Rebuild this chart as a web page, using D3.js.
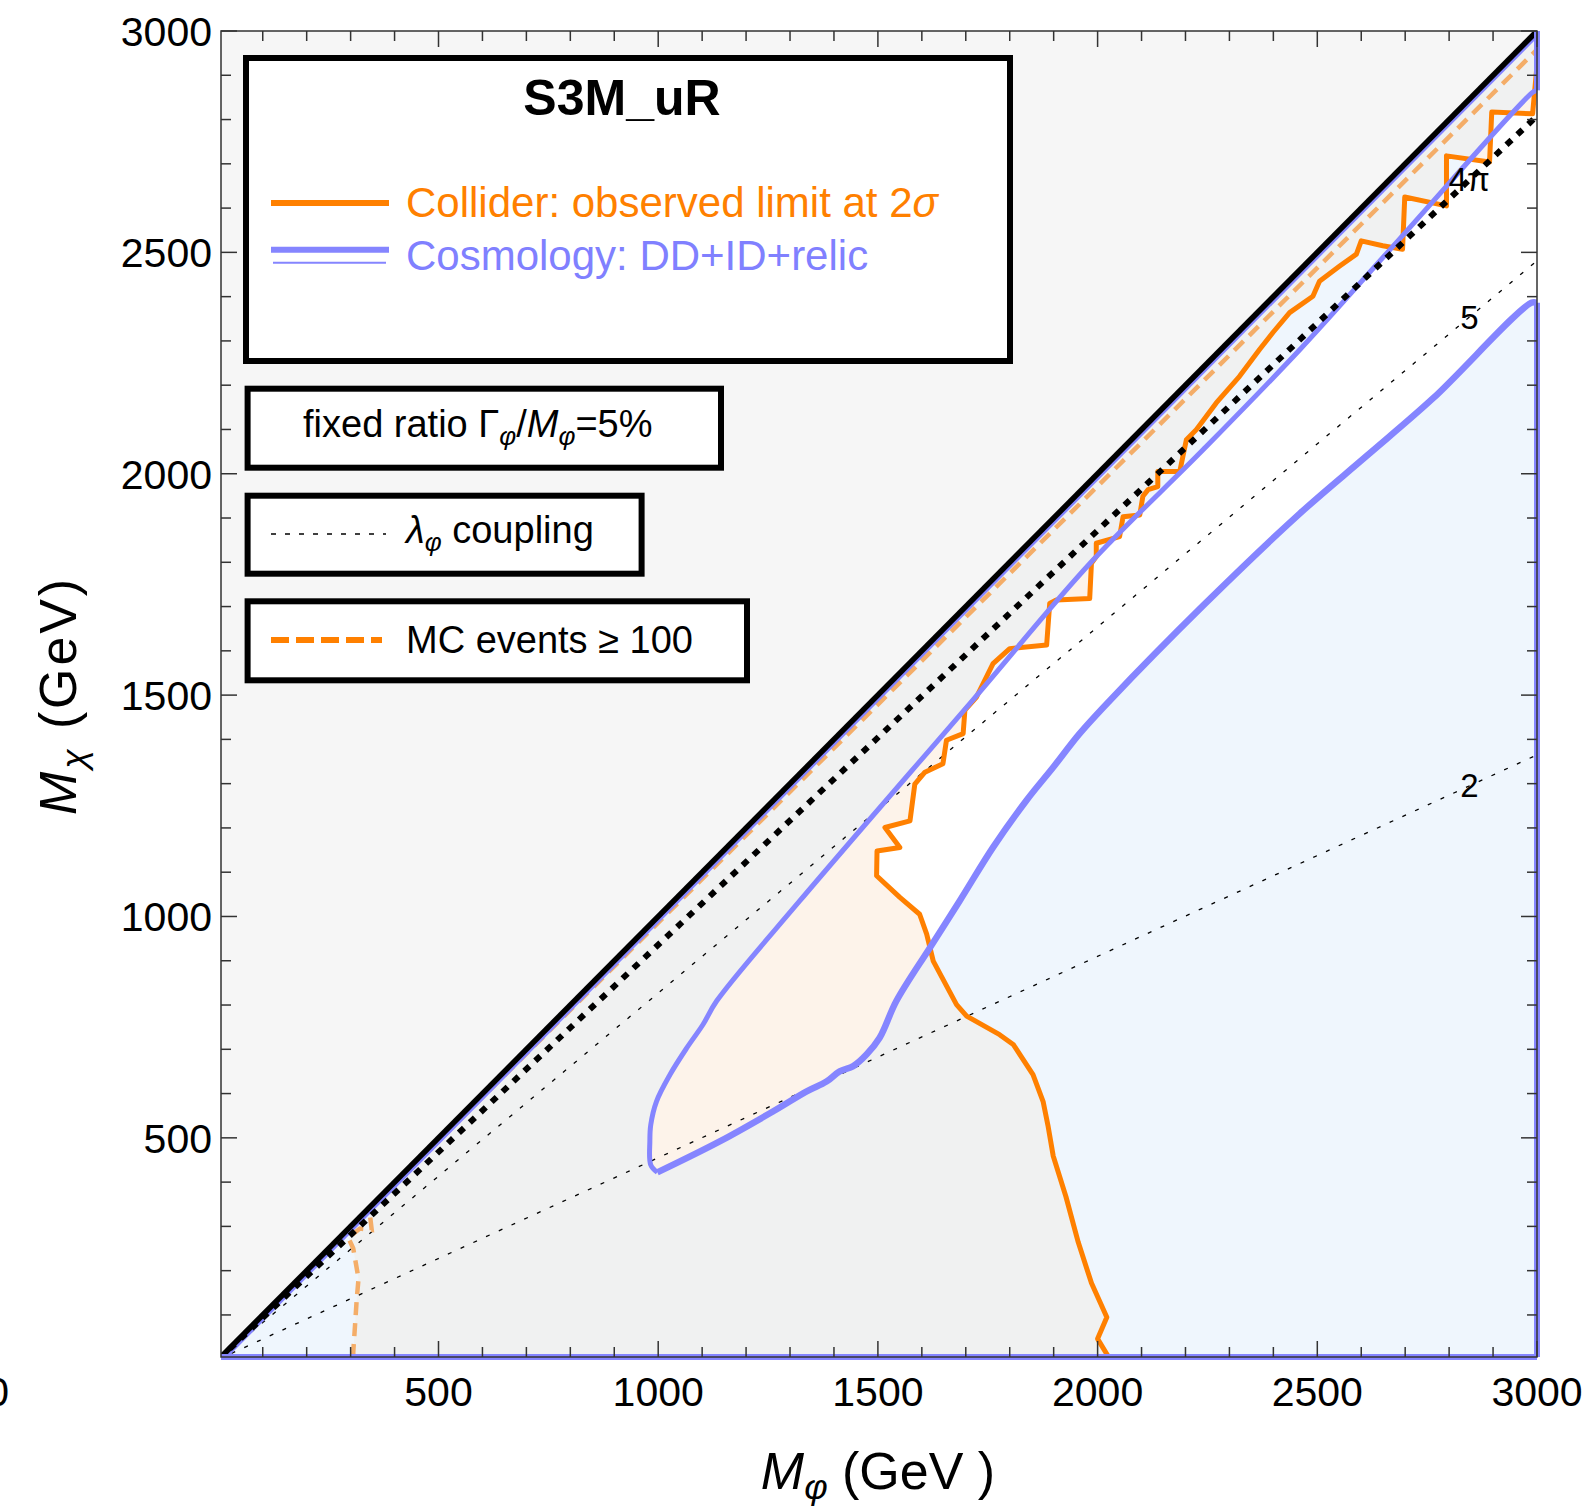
<!DOCTYPE html>
<html>
<head>
<meta charset="utf-8">
<script src="https://cdn.jsdelivr.net/npm/d3@7"></script>
<style>
  body { margin: 0; background: #fff; }
  text { font-family: "Liberation Sans", Arial, sans-serif; }
</style>
</head>
<body>
<div id="chart"></div>
<script>
// values, [M_phi, M_chi] in GeV
const xTicks = [500, 1000, 1500, 2000, 2500, 3000];
const yTicks = [500, 1000, 1500, 2000, 2500, 3000];
const minorTicks = [100, 200, 300, 400, 600, 700, 800, 900, 1100, 1200, 1300, 1400, 1600, 1700, 1800, 1900,
                    2100, 2200, 2300, 2400, 2600, 2700, 2800, 2900];

// collider: observed limit at 2 sigma
const orangeLimit = [
  [2025, 5], [2000, 46], [2021, 95], [1986, 172], [1956, 264], [1928, 367], [1899, 459], [1887, 528],
  [1876, 582], [1853, 643], [1808, 711], [1777, 733], [1702, 775], [1679, 801], [1626, 899], [1611, 960],
  [1595, 1005], [1550, 1043], [1497, 1092], [1498, 1148], [1550, 1156], [1516, 1201], [1573, 1216],
  [1584, 1299], [1607, 1326], [1648, 1345], [1656, 1398], [1694, 1413], [1698, 1466], [1724, 1495],
  [1762, 1571], [1800, 1605], [1884, 1613], [1891, 1707], [1906, 1715], [1982, 1718], [1986, 1798],
  [1997, 1813], [1997, 1843], [2050, 1858], [2058, 1903], [2096, 1907], [2103, 1949], [2115, 1964],
  [2137, 1971], [2137, 2005], [2187, 2005], [2202, 2077], [2225, 2100], [2270, 2160], [2323, 2220],
  [2369, 2281], [2399, 2319], [2437, 2364], [2490, 2401], [2505, 2435], [2551, 2469], [2589, 2496],
  [2600, 2526], [2649, 2515], [2694, 2507], [2699, 2625], [2794, 2605], [2794, 2718], [2892, 2704],
  [2897, 2817], [2990, 2813], [3000, 2922]
];

// MC events >= 100
const mcEvents = [
  [306, 5], [306, 16], [314, 137], [318, 182], [306, 250], [295, 274], [321, 295], [348, 292],
  [344, 326], [352, 347], [3000, 2958]
];

// cosmology contour, both branches start at the tip near (1000, 420)
const cosmoUpper = [
  [998, 422], [983, 439], [981, 492], [983, 529], [996, 582], [1027, 643], [1065, 703], [1102, 756],
  [1133, 809], [1322, 1035], [1717, 1490], [1985, 1800], [2240, 2054], [2460, 2280], [2687, 2530],
  [2991, 2862], [3000, 2866]
];
const cosmoLower = [
  [998, 422], [1140, 492], [1262, 560], [1338, 605], [1383, 627], [1413, 650], [1444, 662], [1474, 688],
  [1504, 726], [1542, 809], [1618, 929], [1686, 1035], [1762, 1156], [1838, 1262], [1899, 1337],
  [1959, 1413], [2028, 1488], [2240, 1702], [2460, 1910], [2612, 2040], [2763, 2170], [2987, 2386],
  [3000, 2386]
];

// lambda_phi coupling contours: M_chi where each meets M_phi = 3000
const couplingLabels = ["4π", "5", "2"];
const couplingEnd = [2808, 2481, 1365];
const couplingLabelX = 2846;

const x = d3.scaleLinear().domain([5, 3000]).range([221, 1537]);
const y = d3.scaleLinear().domain([5, 3000]).range([1357, 31]);
const line = d3.line().x(d => x(d[0])).y(d => y(d[1]));
const smooth = d3.line().x(d => x(d[0])).y(d => y(d[1])).curve(d3.curveCatmullRom.alpha(0.5));

const svg = d3.select("#chart").append("svg")
    .attr("width", 1588)
    .attr("height", 1507);
svg.append("rect").attr("width", 1588).attr("height", 1507).attr("fill", "#fff");

const triangle = [[5, 5], [3000, 5], [3000, 3000]];
const contourPath = smooth(cosmoUpper) + "L" + smooth(cosmoLower.slice().reverse()).slice(1) + "Z";
const cosmoPath = line(triangle) + "Z" + contourPath;
const colliderRegion = mcEvents.slice(0, 9).concat([[3000, 3000]], orangeLimit.slice().reverse());

const defs = svg.append("defs");
defs.append("clipPath").attr("id", "plotClip")
    .append("rect")
    .attr("x", x(5)).attr("y", y(3000))
    .attr("width", x(3000) - x(5)).attr("height", y(5) - y(3000));
defs.append("clipPath").attr("id", "cosmoClip")
    .append("path").attr("d", cosmoPath).attr("clip-rule", "evenodd");
defs.append("clipPath").attr("id", "belowDiag")
    .append("path").attr("d", line(triangle) + "Z");

const plot = svg.append("g").attr("clip-path", "url(#plotClip)");

// filled regions
plot.append("rect")
    .attr("x", x(5)).attr("y", y(3000))
    .attr("width", x(3000) - x(5)).attr("height", y(5) - y(3000))
    .attr("fill", "#f6f6f6");
plot.append("path").attr("d", line(triangle) + "Z").attr("fill", "#fff");
plot.append("path").attr("d", cosmoPath).attr("fill-rule", "evenodd").attr("fill", "#eff6fd");
plot.append("path").attr("d", line(colliderRegion) + "Z").attr("fill", "#fdf3ea");
plot.append("path").attr("d", line(colliderRegion) + "Z").attr("fill", "#f0f1f1")
    .attr("clip-path", "url(#cosmoClip)");

// thin coupling contours
couplingEnd.forEach(function(end, i) {
    if (i == 0) return;
    plot.append("path")
        .attr("d", line([[0, 0], [3000, end]]))
        .attr("fill", "none")
        .attr("stroke", "#000")
        .attr("stroke-width", 1.3)
        .attr("stroke-dasharray", "4,10");
});

// collider limit
plot.append("path")
    .attr("d", line(orangeLimit))
    .attr("fill", "none")
    .attr("stroke", "#ff8000")
    .attr("stroke-width", 5)
    .attr("stroke-linejoin", "round");

// MC events line
plot.append("path")
    .attr("d", line(mcEvents))
    .attr("fill", "none")
    .attr("stroke", "#f4ad68")
    .attr("stroke-width", 4.5)
    .attr("stroke-dasharray", "13,8");

// cosmology contour lines
plot.append("path")
    .attr("d", smooth(cosmoUpper))
    .attr("fill", "none")
    .attr("stroke", "#8585ff")
    .attr("stroke-width", 5)
    .attr("stroke-linejoin", "round");
plot.append("path")
    .attr("d", smooth(cosmoLower))
    .attr("fill", "none")
    .attr("stroke", "#8585ff")
    .attr("stroke-width", 6.5)
    .attr("stroke-linejoin", "round");
plot.append("path")
    .attr("d", line([[5, 5], [3000, 3000]]))
    .attr("clip-path", "url(#belowDiag)")
    .attr("fill", "none")
    .attr("stroke", "#8585ff")
    .attr("stroke-width", 10);

// 4pi coupling contour
plot.append("path")
    .attr("d", line([[0, 0], [3000, couplingEnd[0]]]))
    .attr("fill", "none")
    .attr("stroke", "#000")
    .attr("stroke-width", 6)
    .attr("stroke-dasharray", "7,8");

// kinematic diagonal
plot.append("path")
    .attr("d", line([[5, 5], [3000, 3000]]))
    .attr("fill", "none")
    .attr("stroke", "#000")
    .attr("stroke-width", 5.5);

couplingLabels.forEach(function(lab, i) {
    svg.append("text")
        .attr("x", x(couplingLabelX))
        .attr("y", y(couplingEnd[i] * couplingLabelX / 3000))
        .attr("text-anchor", "middle")
        .attr("dominant-baseline", "central")
        .style("font-size", "33px")
        .text(lab);
});

// blue edges of the cosmology region
[[[5, 5], [3000, 5]], [[3000, 5], [3000, 2386]], [[3000, 2866], [3000, 3000]]].forEach(function(seg) {
    svg.append("path")
        .attr("d", line(seg))
        .attr("fill", "none")
        .attr("stroke", "#8585ff")
        .attr("stroke-width", 6);
});

// frame and ticks
svg.append("rect")
    .attr("x", x(5)).attr("y", y(3000))
    .attr("width", x(3000) - x(5)).attr("height", y(5) - y(3000))
    .attr("fill", "none")
    .attr("stroke", "#333")
    .attr("stroke-width", 1.5);

const ticks = xTicks.map(v => [v, 16]).concat(minorTicks.map(v => [v, 10]));
const tickG = svg.append("g").attr("stroke", "#333").attr("stroke-width", 1.5);
ticks.forEach(function(t) {
    const v = t[0], len = t[1];
    tickG.append("line").attr("x1", x(v)).attr("x2", x(v)).attr("y1", y(5)).attr("y2", y(5) - len);
    tickG.append("line").attr("x1", x(v)).attr("x2", x(v)).attr("y1", y(3000)).attr("y2", y(3000) + len);
    tickG.append("line").attr("y1", y(v)).attr("y2", y(v)).attr("x1", x(5)).attr("x2", x(5) + len);
    tickG.append("line").attr("y1", y(v)).attr("y2", y(v)).attr("x1", x(3000)).attr("x2", x(3000) - len);
});

xTicks.forEach(function(v) {
    svg.append("text")
        .attr("x", x(v)).attr("y", 1406)
        .attr("text-anchor", "middle")
        .style("font-size", "41px")
        .text(v);
});
yTicks.forEach(function(v) {
    svg.append("text")
        .attr("x", 212).attr("y", y(v) + 15)
        .attr("text-anchor", "end")
        .style("font-size", "41px")
        .text(v);
});
svg.append("text")
    .attr("x", 9).attr("y", 1406)
    .attr("text-anchor", "end")
    .style("font-size", "41px")
    .text("0");

// axis titles
const xTitle = svg.append("text")
    .attr("x", 878).attr("y", 1489)
    .attr("text-anchor", "middle")
    .style("font-size", "52px");
xTitle.append("tspan").style("font-style", "italic").text("M");
xTitle.append("tspan").style("font-style", "italic").style("font-size", "36px").attr("dy", 10).text("φ");
xTitle.append("tspan").attr("dy", -10).text(" (GeV )");

const yTitle = svg.append("text")
    .attr("transform", "translate(76,697) rotate(-90)")
    .attr("text-anchor", "middle")
    .attr("textLength", 236)
    .attr("lengthAdjust", "spacing")
    .style("font-size", "52px");
yTitle.append("tspan").style("font-style", "italic").text("M");
yTitle.append("tspan").style("font-style", "italic").style("font-size", "36px").attr("dy", 10).text("χ");
yTitle.append("tspan").attr("dy", -10).text(" (GeV)");

// legend boxes
function box(x0, y0, w, h) {
    svg.append("rect")
        .attr("x", x0).attr("y", y0).attr("width", w).attr("height", h)
        .attr("fill", "#fff")
        .attr("stroke", "#000")
        .attr("stroke-width", 6);
}
box(246, 58, 764, 303);
box(247.6, 388.7, 473.4, 79);
box(247.6, 495.7, 394, 78);
box(247.6, 601.3, 499.4, 79);

svg.append("text")
    .attr("x", 622).attr("y", 115)
    .attr("text-anchor", "middle")
    .style("font-size", "50px")
    .style("font-weight", "bold")
    .text("S3M_uR");

svg.append("line").attr("x1", 271).attr("x2", 389).attr("y1", 203).attr("y2", 203)
    .attr("stroke", "#ff8000").attr("stroke-width", 6);
svg.append("line").attr("x1", 271).attr("x2", 389).attr("y1", 249.7).attr("y2", 249.7)
    .attr("stroke", "#8585ff").attr("stroke-width", 6);
svg.append("line").attr("x1", 273).attr("x2", 386).attr("y1", 262.7).attr("y2", 262.7)
    .attr("stroke", "#8585ff").attr("stroke-width", 2);
const collLab = svg.append("text").attr("x", 406).attr("y", 217)
    .style("font-size", "42px").attr("fill", "#ff8000");
collLab.append("tspan").text("Collider: observed limit at 2");
collLab.append("tspan").style("font-style", "italic").text("σ");
svg.append("text").attr("x", 406).attr("y", 270)
    .style("font-size", "42px").attr("fill", "#8080ff")
    .text("Cosmology: DD+ID+relic");

const ratio = svg.append("text").attr("x", 303).attr("y", 437).style("font-size", "38px");
ratio.append("tspan").text("fixed ratio Γ");
ratio.append("tspan").style("font-style", "italic").style("font-size", "26px").attr("dy", 8).text("φ");
ratio.append("tspan").attr("dy", -8).text("/");
ratio.append("tspan").style("font-style", "italic").text("M");
ratio.append("tspan").style("font-style", "italic").style("font-size", "26px").attr("dy", 8).text("φ");
ratio.append("tspan").attr("dy", -8).text("=5%");

svg.append("line").attr("x1", 271).attr("x2", 386).attr("y1", 534).attr("y2", 534)
    .attr("stroke", "#000").attr("stroke-width", 1.3).attr("stroke-dasharray", "5,9");
const coup = svg.append("text").attr("x", 406).attr("y", 543).style("font-size", "38px");
coup.append("tspan").style("font-style", "italic").text("λ");
coup.append("tspan").style("font-style", "italic").style("font-size", "26px").attr("dy", 8).text("φ");
coup.append("tspan").attr("dy", -8).text(" coupling");

svg.append("line").attr("x1", 271).attr("x2", 382).attr("y1", 640).attr("y2", 640)
    .attr("stroke", "#ff8000").attr("stroke-width", 6).attr("stroke-dasharray", "18,7");
svg.append("text").attr("x", 406).attr("y", 653).style("font-size", "38px")
    .text("MC events ≥ 100");
</script>
</body>
</html>
